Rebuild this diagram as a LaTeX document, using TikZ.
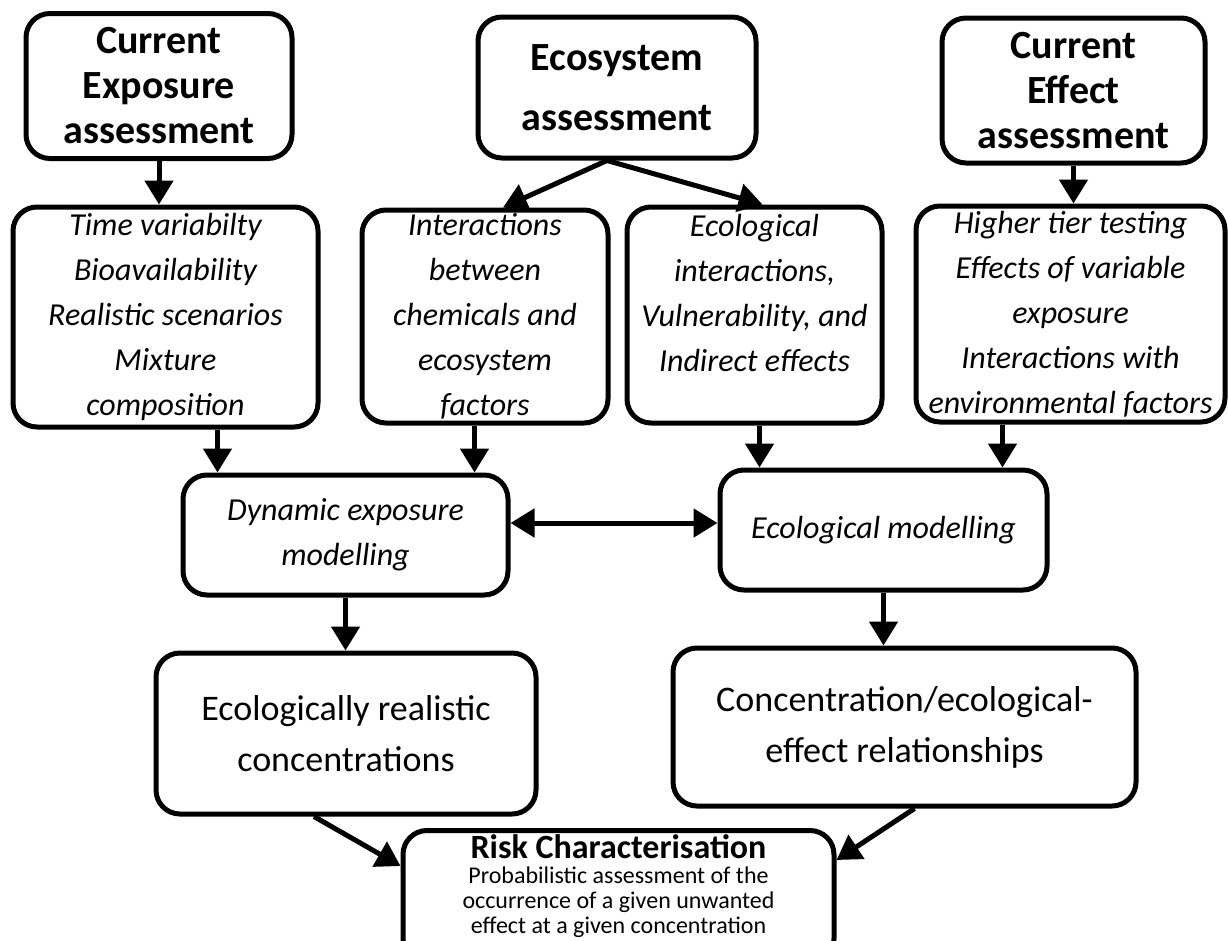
\documentclass[tikz,border=0pt]{standalone}
\usepackage{fontspec}
\setmainfont{Carlito}
\usetikzlibrary{arrows.meta}

\begin{document}
\begin{tikzpicture}
[x=1pt,y=-1pt,>={Triangle[length=24pt,width=28pt]},
 box/.style={draw,line width=5pt,rounded corners=24pt,align=center,inner sep=2pt},
 ttl/.style={box,font=\fontsize{40}{45}\selectfont\bfseries},
 itx/.style={box,font=\fontsize{32}{45}\selectfont\itshape},
 txt/.style={box,font=\fontsize{36}{51}\selectfont},
 arr/.style={->,line width=5pt}]
\useasboundingbox (0,0) rectangle (1228,940);
\clip (0,0) rectangle (1228,940);
\node[ttl,minimum width=266pt,minimum height=145pt] (expo) at (159,86) {Current\\Exposure\\assessment};
\node[ttl,minimum width=278pt,minimum height=141pt,font=\fontsize{40}{60}\selectfont\bfseries] (ecosys) at (617,87.5) {Ecosystem\\assessment};
\node[ttl,minimum width=263pt,minimum height=145pt] (effect) at (1073.5,90.5) {Current\\Effect\\assessment};
\node[itx,minimum width=305pt,minimum height=220pt] (expofac) at (165.5,317) {Time variabilty\\Bioavailability\\Realistic scenarios\\Mixture\\composition};
\node[itx,minimum width=246pt,minimum height=213pt] (interfac) at (485,316.5) {Interactions\\between\\chemicals and\\ecosystem\\factors};
\node[itx,minimum width=255pt,minimum height=216pt] (ecofac) at (754.5,315) {Ecological\\interactions,\\Vulnerability, and\\Indirect effects\\\mbox{}};
\node[itx,minimum width=309pt,minimum height=216pt] (effectfac) at (1070.5,314) {Higher tier testing\\Effects of variable\\exposure\\Interactions with\\environmental factors};
\node[itx,minimum width=325pt,minimum height=120pt] (dynmod) at (345.5,535) {Dynamic exposure\\modelling};
\node[itx,minimum width=327pt,minimum height=120pt] (ecomod) at (883.5,530) {Ecological modelling};
\node[txt,minimum width=380pt,minimum height=161pt] (realconc) at (346,733.5) {Ecologically realistic\\concentrations};
\node[txt,minimum width=463pt,minimum height=158pt] (concrel) at (904.5,727) {Concentration/ecological-\\effect relationships};
\node[box,anchor=north,inner ysep=4pt,minimum width=431pt,font=\fontsize{24}{25}\selectfont] (risk) at (618.5,828) {{\fontsize{34}{34}\selectfont\bfseries Risk Characterisation}\\Probabilistic assessment of the\\occurrence of a given unwanted\\effect at a given concentration\\\mbox{}};
\coordinate (split) at ([xshift=-10pt]ecosys.south);
\coordinate (dhin) at ([xshift=37pt]dynmod.north west);
\coordinate (ehin) at ([xshift=-36pt]dynmod.north east);
\coordinate (fiin) at ([xshift=42pt]ecomod.north west);
\coordinate (giin) at ([xshift=-47pt]ecomod.north east);
\coordinate (hiout) at ([yshift=12pt]dynmod.east);
\draw[arr] (expo.south) -- (expo.south |- expofac.north);
\draw[arr] (split) -- ([xshift=18pt]interfac.north);
\draw[arr] (split) -- ([xshift=8pt]ecofac.north);
\draw[arr] (effect.south) -- (effect.south |- effectfac.north);
\draw[arr] (expofac.south -| dhin) -- (dhin);
\draw[arr] (interfac.south -| ehin) -- (ehin);
\draw[arr] (ecofac.south -| fiin) -- (fiin);
\draw[arr] (effectfac.south -| giin) -- (giin);
\draw[arr,<->] (hiout) -- (hiout -| ecomod.west);
\draw[arr] (dynmod.south) -- (dynmod.south |- realconc.north);
\draw[arr] (ecomod.south) -- (ecomod.south |- concrel.north);
\draw[arr] ([xshift=-32pt]realconc.south) -- ([yshift=-38pt]risk.north west);
\draw[arr] ([xshift=10pt]concrel.south) -- ([yshift=-32pt]risk.north east);
\end{tikzpicture}
\end{document}
